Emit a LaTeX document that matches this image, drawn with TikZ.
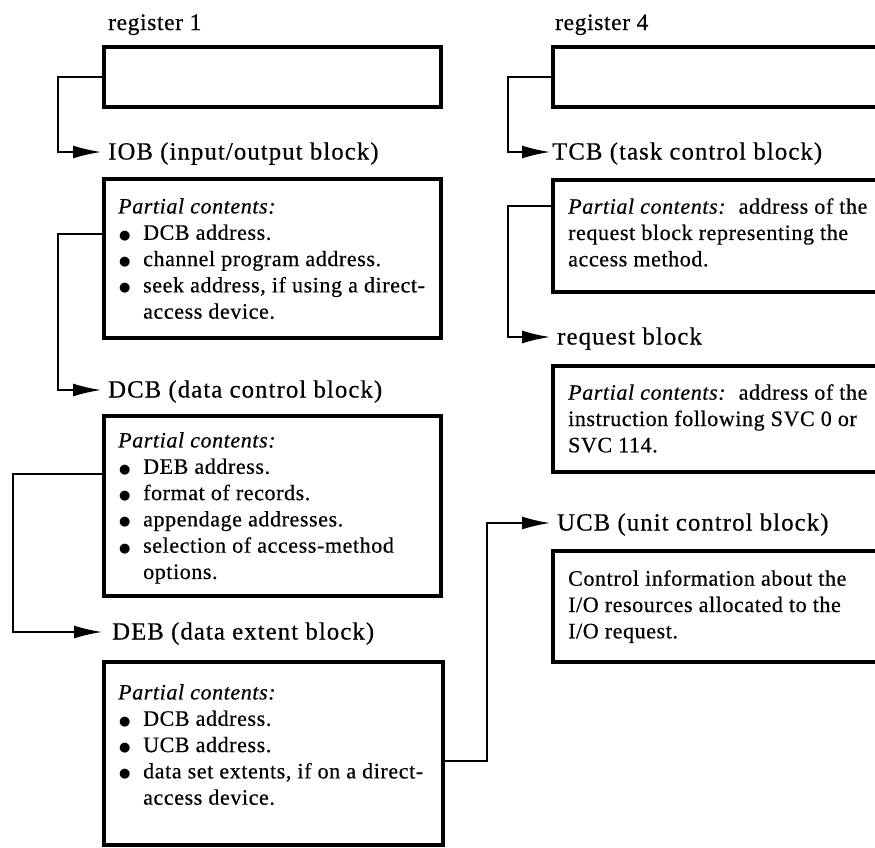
\documentclass[tikz,border=0pt]{standalone}
\usepackage{fontspec}
\setmainfont{Liberation Serif}
\newfontfamily\labfont[LetterSpace=4.5, FakeBold=0.5]{Liberation Serif}
\newfontfamily\txtfont[LetterSpace=2.7, FakeBold=0.5]{Liberation Serif}
\newfontfamily\dotfont{DejaVu Sans}
\usetikzlibrary{arrows.meta,calc}
\newcommand{\bul}{\makebox[25pt][l]{\hspace{1pt}\raisebox{0.6pt}{\dotfont\fontsize{13}{13}\selectfont ●}}}
\newcommand{\ind}{\hspace*{25pt}}
\begin{document}
\begin{tikzpicture}[x=1pt,y=-1pt,
  blk/.style={draw, line width=3.2pt, rectangle, inner sep=0pt, outer sep=0pt, anchor=north west},
  lbl/.style={anchor=base west, inner sep=0pt, text height=15pt, text depth=0pt,
              font=\labfont\fontsize{24.7}{28}\selectfont},
  reglbl/.style={anchor=base west, inner sep=0pt, font=\txtfont\fontsize{23.5}{26}\selectfont},
  txt/.style={anchor=north west, inner sep=0pt, align=left,
              font=\txtfont\fontsize{22}{26.3}\selectfont},
  link/.style={line width=1.8pt, -{Latex[length=28pt,width=13pt]}, shorten >=7pt}
]
\useasboundingbox (0,0) rectangle (875,847);
\fill[white] (0,0) rectangle (875,847);
\clip (0,0) rectangle (875,847);

% left column: register 1 chain
\node[reglbl] (r1lab) at (108,30) {register 1};
\node[blk, minimum width=337pt, minimum height=60pt] (reg1) at (104,47) {};
\node[lbl] (ioblab) at (108,159.5) {IOB (input/output block)};
\node[blk, minimum width=337pt, minimum height=159pt] (iob) at (104,179) {};
\node[txt] (iobtxt) at (118,198) {\textit{Partial contents:}\\
  \bul DCB address.\\
  \bul channel program address.\\
  \bul seek address, if using a direct-\\
  \ind access device.};
\node[lbl] (dcblab) at (108,397.5) {DCB (data control block)};
\node[blk, minimum width=337pt, minimum height=180pt] (dcb) at (104,416) {};
\node[txt] (dcbtxt) at (118,432) {\textit{Partial contents:}\\
  \bul DEB address.\\
  \bul format of records.\\
  \bul appendage addresses.\\
  \bul selection of access-method\\
  \ind options.};
\node[lbl] (deblab) at (112,639.5) {DEB (data extent block)};
\node[blk, minimum width=339pt, minimum height=183pt] (deb) at (104,662) {};
\node[txt] (debtxt) at (118,684) {\textit{Partial contents:}\\
  \bul DCB address.\\
  \bul UCB address.\\
  \bul data set extents, if on a direct-\\
  \ind access device.};

% right column: register 4 chain
\node[reglbl] (r4lab) at (555,30) {register 4};
\node[blk, minimum width=340pt, minimum height=60pt] (reg4) at (553,47) {};
\node[lbl] (tcblab) at (552,159.5) {TCB (task control block)};
\node[blk, minimum width=340pt, minimum height=112pt] (tcb) at (553,180) {};
\node[txt] (tcbtxt) at (568,198) {\textit{Partial contents:}\hspace{0.2em} address of the\\
  request block representing the\\
  access method.};
\node[lbl] (reqlab) at (557,344.5) {request block};
\node[blk, minimum width=340pt, minimum height=106pt] (req) at (553,366) {};
\node[txt] (reqtxt) at (568,384) {\textit{Partial contents:}\hspace{0.2em} address of the\\
  instruction following SVC 0 or\\
  SVC 114.};
\node[lbl] (ucblab) at (557,530.5) {UCB (unit control block)};
\node[blk, minimum width=340pt, minimum height=111pt] (ucb) at (553,551) {};
\node[txt] (ucbtxt) at (568,570) {Control information about the\\
  I/O resources allocated to the\\
  I/O request.};

% pointer exits
\coordinate (iobout) at ($(iob.north west)+(0,55)$);
\coordinate (dcbout) at ($(dcb.north west)+(0,58)$);
\coordinate (debout) at ($(deb.north east)+(0,99)$);
\coordinate (tcbout) at ($(tcb.north west)+(0,26)$);

% pointers
\draw[link] (reg1.west) -- ++(-46,0) |- (ioblab.west);
\draw[link] (iobout) -- ++(-46,0) |- (dcblab.west);
\draw[link, shorten >=10pt] (dcbout) -- ++(-91,0) |- (deblab.west);
\draw[link] (debout) -- ++(44,0) |- (ucblab.west);
\draw[link, shorten >=2pt] (reg4.west) -- ++(-45,0) |- (tcblab.west);
\draw[link] (tcbout) -- ++(-45,0) |- (reqlab.west);
\end{tikzpicture}
\end{document}
